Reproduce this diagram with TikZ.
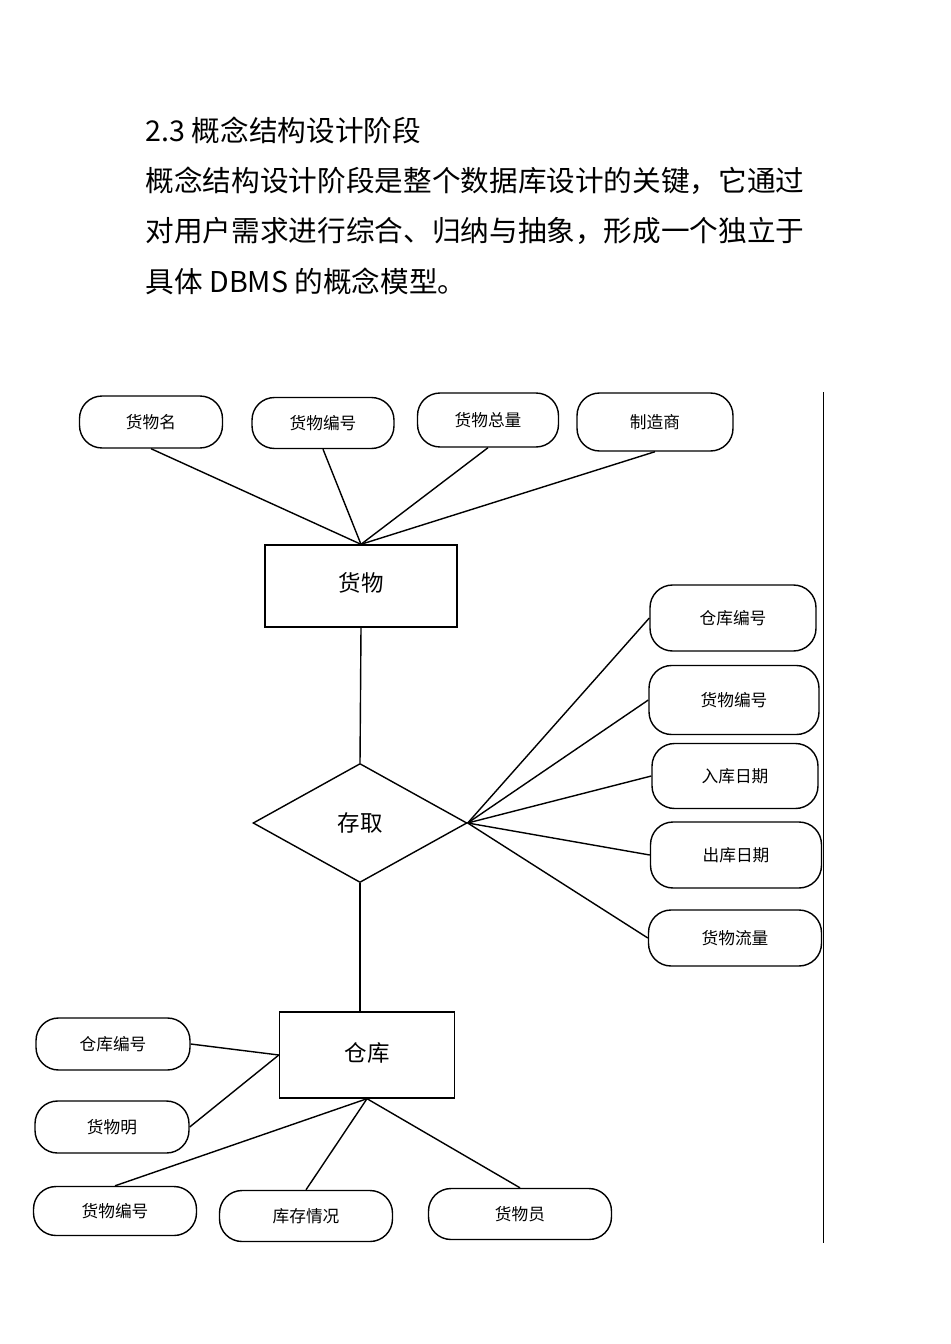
\documentclass[tikz,border=0pt]{standalone}
\usepackage{fontspec}
\usepackage{tikz}
\usetikzlibrary{shapes.geometric}
\setmainfont{Noto Sans CJK SC}

\begin{document}
\begin{tikzpicture}[x=0.02cm,y=-0.02cm,line width=0.8pt,
    para/.style={anchor=west,inner sep=0pt,font=\fontsize{16.3pt}{20pt}\selectfont},
    attr/.style={draw,rectangle,rounded corners=0.45cm,inner sep=0pt,font=\fontsize{9.5pt}{11pt}\selectfont},
    entity/.style={draw,rectangle,inner sep=0pt,font=\fontsize{12.8pt}{14pt}\selectfont},
    rel/.style={draw,diamond,aspect=1.8,inner sep=0pt,minimum width=4.28cm,minimum height=2.38cm,font=\fontsize{12.8pt}{14pt}\selectfont}]
    \useasboundingbox (0,0) rectangle (950,1344);
    % heading text
    \node[para] (h1) at (145,130) {2.3 概念结构设计阶段};
    \node[para] (h2) at (145,181) {概念结构设计阶段是整个数据库设计的关键，它通过};
    \node[para] (h3) at (145,231) {对用户需求进行综合、归纳与抽象，形成一个独立于};
    \node[para] (h4) at (145,281) {具体 DBMS 的概念模型。};
    % entities and relation
    \node[entity,minimum width=3.84cm,minimum height=1.64cm] (huowu) at (361,586) {\raisebox{0.15cm}{货物}};
    \node[rel] (cunqu) at (360,823) {存取};
    \node[entity,minimum width=3.5cm,minimum height=1.72cm] (cangku) at (367,1055) {\raisebox{0.12cm}{仓库}};
    % attributes of 货物
    \node[attr,minimum width=2.86cm,minimum height=1.04cm] (hwm) at (151,422) {货物名};
    \node[attr,minimum width=2.84cm,minimum height=1.02cm] (hwbh) at (323,423) {货物编号};
    \node[attr,minimum width=2.82cm,minimum height=1.08cm] (hwzl) at (488,420) {货物总量};
    \node[attr,minimum width=3.12cm,minimum height=1.16cm] (zzs) at (655,422) {制造商};
    % attributes of 存取
    \node[attr,minimum width=3.32cm,minimum height=1.32cm] (ckbh) at (733,618) {仓库编号};
    \node[attr,minimum width=3.4cm,minimum height=1.38cm] (cqbh) at (734,700) {货物编号};
    \node[attr,minimum width=3.32cm,minimum height=1.3cm] (rkrq) at (735,776) {入库日期};
    \node[attr,minimum width=3.42cm,minimum height=1.32cm] (ckrq) at (736,855) {出库日期};
    \node[attr,minimum width=3.46cm,minimum height=1.12cm] (hwll) at (735,938) {货物流量};
    % attributes of 仓库
    \node[attr,minimum width=3.08cm,minimum height=1.04cm] (kbh) at (113,1044) {仓库编号};
    \node[attr,minimum width=3.08cm,minimum height=1.04cm] (khwm) at (112,1127) {货物明};
    \node[attr,minimum width=3.26cm,minimum height=0.98cm] (khbh) at (115,1211) {货物编号};
    \node[attr,minimum width=3.46cm,minimum height=1.02cm] (kcqk) at (306,1216) {库存情况};
    \node[attr,minimum width=3.66cm,minimum height=1.02cm] (hwy) at (520,1214) {货物员};
    % connectors
    \draw (hwm.south) -- (huowu.north);
    \draw (hwbh.south) -- (huowu.north);
    \draw (hwzl.south) -- (huowu.north);
    \draw (zzs.south) -- (huowu.north);
    \draw (huowu.south) -- (cunqu.north);
    \draw (cunqu.south) -- (cunqu.south |- cangku.north);
    \foreach \a in {ckbh,cqbh,rkrq,ckrq,hwll}
      \draw (cunqu.east) -- (\a.west);
    \draw (kbh.east) -- (cangku.west);
    \draw (khwm.east) -- (cangku.west);
    \draw (khbh.north) -- (cangku.south);
    \draw (kcqk.north) -- (cangku.south);
    \draw (hwy.north) -- (cangku.south);
    % right margin line
    \coordinate (mtop) at (823,392);
    \coordinate (mbot) at (823,1243);
    \draw[line width=0.5pt] (mtop) -- (mbot);
\end{tikzpicture}
\end{document}
